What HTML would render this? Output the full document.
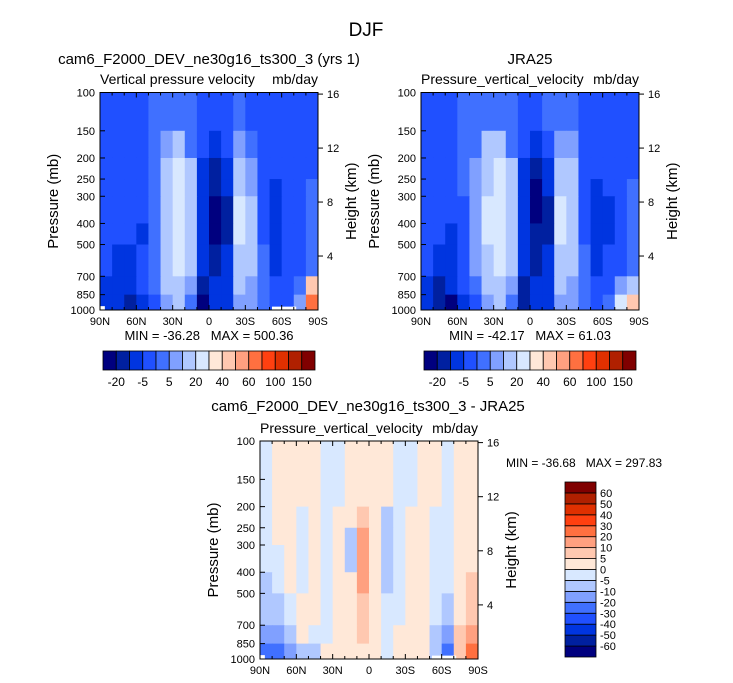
<!DOCTYPE html>
<html><head><meta charset="utf-8"><style>
body{margin:0;background:#fff;}
svg{display:block;font-family:"Liberation Sans",sans-serif;}
text{white-space:pre;}
</style></head><body>
<svg id="c" width="733" height="683" xmlns="http://www.w3.org/2000/svg"></svg>
<script>
const latTicks=["90N","60N","30N","0","30S","60S","90S"];
const presLevels=[100,150,200,250,300,400,500,700,850,1000];
const heightTicks=[4,8,12,16];
const topBounds=[-20,-10,-5,0,5,10,20,30,40,50,60,80,100,125,150];
const topLabels=["-20","-5","5","20","40","60","100","150"];
const diffBounds=[-60,-50,-40,-30,-20,-10,-5,0,5,10,20,30,40,50,60];
const diffLabels=["60","50","40","30","20","10","5","0","-5","-10","-20","-30","-40","-50","-60"];
const palette=["#00007f","#0020a0","#0035e0","#2050ff","#4070ff","#80a0ff","#b0c8ff","#d8e8ff","#ffe8d8","#ffc8b0","#ffa080","#ff7040","#ff4010","#e03000","#b02000","#800000"];
// 18 columns (10 deg, 90N->90S) x 9 rows (100-150 ... 850-1000)
const model=[
[-3,-3,-3,-3,2,2,2,2,-3,-3,-3,2,-3,-3,-3,-3,-3,-3],
[-3,-3,-3,-3,2,8,12,2,-3,-7,-3,8,2,-3,-3,-3,-3,-3],
[-3,-3,-3,-3,2,15,25,12,-7,-15,-7,15,8,-3,-3,-3,-3,-3],
[-3,-3,-3,-3,2,15,25,15,-7,-15,-7,15,8,-3,-7,-3,-3,2],
[-3,-3,-3,-3,2,15,25,15,-7,-25,-15,25,12,-3,-7,-3,-3,2],
[-3,-3,-3,-7,2,15,25,15,-7,-25,-15,25,12,-3,-7,-3,-3,2],
[-3,-7,-7,-3,2,12,25,15,-7,-15,-7,15,12,2,-7,-3,-3,2],
[-7,-7,-7,-3,2,12,15,8,-15,-7,-7,12,8,2,-3,-3,2,40],
[-7,-7,-15,-7,-3,8,12,2,-25,-7,-7,8,8,2,-3,-3,8,60]];
const jra=[
[-3,-3,-3,2,2,2,2,2,-3,-3,2,2,2,-3,-3,-3,-3,-3],
[-3,-3,-3,2,2,12,12,2,-3,-7,-3,8,8,-3,-3,-3,-3,-3],
[-3,-3,-3,2,8,15,25,12,-7,-15,-7,15,12,-3,-3,-3,-3,-3],
[-3,-3,-3,2,8,15,25,15,-7,-25,-7,15,12,-3,-7,-3,-3,2],
[-3,-3,-3,-3,8,25,25,15,-7,-25,-15,25,12,-3,-7,-7,-3,2],
[-3,-3,-7,-3,8,25,25,15,-7,-15,-15,25,12,-3,-7,-7,-3,2],
[-3,-7,-7,-3,8,15,25,12,-7,-15,-7,15,12,2,-7,-3,-3,2],
[-7,-15,-7,-3,2,12,15,8,-15,-7,-7,12,8,2,-3,-3,8,15],
[-7,-15,-25,-7,-3,8,12,2,-15,-7,-7,8,8,2,-3,2,25,40]];
const diff=[
[-2,2,2,2,2,-2,-2,2,2,2,2,-2,-2,2,2,-2,2,2],
[-2,2,2,2,2,-2,-2,2,2,2,2,-2,-2,2,2,-2,2,2],
[-2,2,2,-2,2,-2,2,2,7,2,-7,-2,2,2,-2,-2,2,2],
[-2,2,2,-2,2,-2,2,-7,12,2,-7,-2,2,2,-2,-2,2,2],
[-2,-2,2,-2,2,-2,2,-7,12,2,-7,-2,2,2,-2,-2,2,2],
[-7,-2,2,-2,2,-2,2,2,12,2,-7,-2,2,2,-2,-2,2,7],
[-7,-7,-2,2,2,-2,2,2,7,2,-2,-2,2,2,-2,-7,2,7],
[-12,-12,-7,2,-2,-2,2,2,7,2,-2,2,2,2,-7,-12,7,12],
[-25,-25,-12,-7,-7,2,2,2,2,2,-2,2,2,2,-7,-25,7,25]];

const svg=document.getElementById('c');
const NS="http://www.w3.org/2000/svg";
function mk(tag,attrs,parent){const e=document.createElementNS(NS,tag);for(const k in attrs)e.setAttribute(k,attrs[k]);(parent||svg).appendChild(e);return e;}
function txt(s,x,y,size,anchor,parent,rot){const t=mk('text',{x:x,y:y,'font-size':size,'text-anchor':anchor||'middle',fill:'#000'},parent);if(rot)t.setAttribute('transform','rotate(-90 '+x+' '+y+')');t.textContent=s;return t;}
function colorIdx(v,b){let i=0;while(i<b.length&&v>=b[i])i++;return i;}

function panel(name,data,bounds,x0,x1,y0,y1,missing){
  const g=mk('g',{});
  
  
  const xs=lat=>x0+(90-lat)/180*(x1-x0);
  const ys=p=>y0+(Math.log10(p)-2)*(y1-y0);
  data.forEach((row,r)=>{
    row.forEach((v,c)=>{
      const la=90-c*10, lb=la-10;
      const rc=mk('rect',{x:xs(la),y:ys(presLevels[r]),width:xs(lb)-xs(la)+0.5,height:ys(presLevels[r+1])-ys(presLevels[r])+0.5,fill:palette[colorIdx(v,bounds)]},g);
      
      
    });
  });
  missing.forEach(m=>{
    const r=mk('rect',{x:xs(m[0]),y:ys(m[2]),width:xs(m[1])-xs(m[0]),height:y1-ys(m[2]),fill:'#fff'},g);
    
    
  });
  const fr=mk('rect',{x:x0,y:y0,width:x1-x0,height:y1-y0,fill:'none',stroke:'#000','stroke-width':1},g);
  
  
  for(let lat=90;lat>=-90;lat-=10){
    const x=xs(lat),len=(lat%30===0)?5:3;
    mk('line',{x1:x,x2:x,y1:y1,y2:y1-len,stroke:'#000'},g);
    mk('line',{x1:x,x2:x,y1:y0,y2:y0+len,stroke:'#000'},g);
  }
  latTicks.forEach((s,i)=>{const t=txt(s,xs(90-i*30),y1+15,11,'middle',g);});
  presLevels.forEach(p=>{
    const y=ys(p);mk('line',{x1:x0,x2:x0+5,y1:y,y2:y,stroke:'#000'},g);
    const t=txt(String(p),x0-5,y+4,11,'end',g);
  });
  heightTicks.forEach(h=>{
    const p=1000*Math.exp(-h/7);const y=ys(p);
    mk('line',{x1:x1,x2:x1+5,y1:y,y2:y,stroke:'#000'},g);
    const t=txt(String(h),x1+9,y+4,11,'start',g);
  });
  const a=txt('Pressure (mb)',x0-42,(y0+y1)/2,15,'middle',g,true);
  const b=txt('Height (km)',x1+38,(y0+y1)/2,15,'middle',g,true);
}

function hbar(name,x0,y0,w,h,labels){
  const g=mk('g',{});
  
  
  const bw=w/16;
  palette.forEach((c,i)=>{const r=mk('rect',{x:x0+i*bw,y:y0,width:bw,height:h,fill:c,stroke:'#000','stroke-width':0.8},g);});
  labels.forEach((s,i)=>{const t=txt(s,x0+(1+2*i)*bw,y0+h+16,12,'middle',g);});
}
function vbar(name,x0,y0,w,h,labels){
  const g=mk('g',{});
  
  
  const bh=h/16;
  palette.forEach((c,i)=>{const r=mk('rect',{x:x0,y:y0+(15-i)*bh,width:w,height:bh,fill:c,stroke:'#000','stroke-width':0.8},g);});
  labels.forEach((s,i)=>{const t=txt(s,x0+w+4,y0+(i+1)*bh+4,11,'start',g);});
}

panel('model-panel',model,topBounds,100,318,92.5,310,[[90,86,960],[-52,-72,965]]);
panel('jra25-panel',jra,topBounds,421,639,92.5,310,[]);
panel('difference-panel',diff,diffBounds,260,478,441,659,[[90,86,960],[-52,-72,965]]);
hbar('model-colorbar',103,351,212,19,topLabels);
hbar('jra25-colorbar',424,351,212,19,topLabels);
vbar('difference-colorbar',565,482,31,175,diffLabels);

function T(s,x,y,size,anchor,name){const t=txt(s,x,y,size,anchor);}
T('DJF',366,36,19,'middle','main-title');
T('cam6_F2000_DEV_ne30g16_ts300_3 (yrs 1)',209,64,15,'middle','model-title');
T('JRA25',530,64,15,'middle','jra25-title');
T('Vertical pressure velocity',100,84,14,'start','model-variable');
T('mb/day',318,84,14,'end','model-units');
T('Pressure_vertical_velocity',421,84,14,'start','jra25-variable');
T('mb/day',639,84,14,'end','jra25-units');
T('MIN = -36.28   MAX = 500.36',209,340,13,'middle','model-minmax');
T('MIN = -42.17   MAX = 61.03',530,340,13,'middle','jra25-minmax');
T('cam6_F2000_DEV_ne30g16_ts300_3 - JRA25',368,411,15,'middle','difference-title');
T('Pressure_vertical_velocity',260,433,14,'start','difference-variable');
T('mb/day',478,433,14,'end','difference-units');
T('MIN = -36.68   MAX = 297.83',506,467,12,'start','difference-minmax');
</script>
</body></html>
